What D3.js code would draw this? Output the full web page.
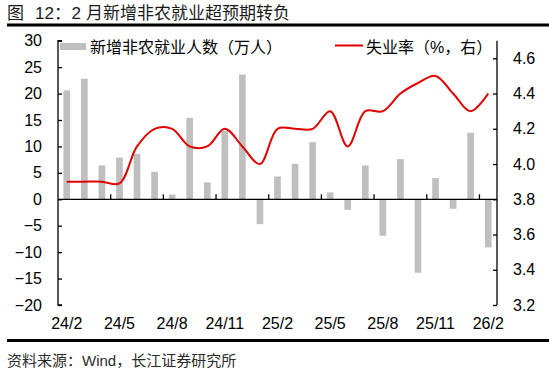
<!DOCTYPE html>
<html>
<head>
<meta charset="utf-8">
<script src="https://cdn.jsdelivr.net/npm/d3@7"></script>
<style>
  body { margin: 0; background: #fff; }
  svg { display: block; font-family: "Liberation Sans", Arial, "Noto Sans CJK SC", sans-serif; }
</style>
</head>
<body>
<svg id="chart"></svg>
<script>
// data
var months = ["24/2","24/3","24/4","24/5","24/6","24/7","24/8","24/9","24/10","24/11","24/12",
              "25/1","25/2","25/3","25/4","25/5","25/6","25/7","25/8","25/9","25/10","25/11","25/12",
              "26/1","26/2"]
var payrolls = [20.6, 22.8, 6.4, 7.9, 8.6, 5.2, 0.9, 15.4, 3.2, 12.9, 23.6,
                -4.7, 4.3, 6.7, 10.8, 1.3, -2.0, 6.4, -6.9, 7.6, -13.9, 4.0, -1.8,
                12.6, -9.1]
var unemployment = [3.9, 3.9, 3.9, 3.89, 4.1, 4.2, 4.2, 4.1, 4.1, 4.2, 4.1,
                    4.0, 4.2, 4.2, 4.2, 4.3, 4.1, 4.3, 4.3, 4.4, 4.46, 4.5, 4.4,
                    4.3, 4.4]
var leftTicks = [-20, -15, -10, -5, 0, 5, 10, 15, 20, 25, 30]
var rightTicks = [3.2, 3.4, 3.6, 3.8, 4.0, 4.2, 4.4, 4.6]
var labelMonths = ["24/2","24/5","24/8","24/11","25/2","25/5","25/8","25/11","26/2"]

var titleParts = ["图", "12：", "2", "月新增非农就业超预期转负"]
var sourceText = "资料来源：Wind，长江证券研究所"
var barLegend = "新增非农就业人数（万人）"
var lineLegend = "失业率（%，右）"

//dimensions
var width = 549, height = 372
var margin = {top: 40.7, right: 52, bottom: 67, left: 58}

var svg = d3.select("#chart")
            .attr("width", width)
            .attr("height", height)

//scales
var x = d3.scaleBand()
          .domain(months)
          .range([margin.left, width - margin.right])
          .paddingInner(0.62)
          .paddingOuter(0.31)
var xStep = (width - margin.left - margin.right) / months.length
var xCenter = d => margin.left + xStep * (months.indexOf(d) + 0.5)

var yLeft = d3.scaleLinear()
              .domain([-20, 30])
              .range([height - margin.bottom, margin.top])
var yRight = d3.scaleLinear()
               .domain([3.2, 4.7])
               .range([height - margin.bottom, margin.top])

//title and rules
var titlePos = [7, 35, 71.5, 86]
var title = svg.append("text")
               .attr("y", 18.5)
               .attr("font-size", 17)
               .attr("fill", "#1a1a1a")
title.selectAll("tspan")
     .data(titleParts)
     .enter()
     .append("tspan")
     .attr("x", (d, i) => titlePos[i])
     .text(d => d)

svg.append("line")
   .attr("x1", 7).attr("x2", width)
   .attr("y1", 25).attr("y2", 25)
   .attr("stroke", "#000").attr("stroke-width", 3)

svg.append("line")
   .attr("x1", 7).attr("x2", width)
   .attr("y1", 340.5).attr("y2", 340.5)
   .attr("stroke", "#000").attr("stroke-width", 3)

svg.append("text")
   .attr("x", 7)
   .attr("y", 366)
   .attr("font-size", 15)
   .attr("fill", "#2b2b2b")
   .text(sourceText)

//bars
svg.append("g")
   .selectAll("rect")
   .data(payrolls)
   .enter()
   .append("rect")
   .attr("x", (d, i) => xCenter(months[i]) - x.bandwidth() / 2)
   .attr("width", x.bandwidth())
   .attr("y", d => yLeft(Math.max(0, d)))
   .attr("height", d => Math.abs(yLeft(d) - yLeft(0)))
   .attr("fill", "#bfbfbf")

//x axis along zero
var xAxis = svg.append("g")
xAxis.append("line")
     .attr("x1", margin.left).attr("x2", width - margin.right)
     .attr("y1", yLeft(0)).attr("y2", yLeft(0))
     .attr("stroke", "#000").attr("stroke-width", 1.3)
xAxis.selectAll(".xtick")
     .data(d3.range(3, months.length, 3))
     .enter()
     .append("line")
     .attr("x1", d => margin.left + xStep * d)
     .attr("x2", d => margin.left + xStep * d)
     .attr("y1", yLeft(0)).attr("y2", yLeft(0) - 5)
     .attr("stroke", "#000").attr("stroke-width", 1.3)
xAxis.selectAll(".xlabel")
     .data(labelMonths)
     .enter()
     .append("text")
     .attr("x", d => xCenter(d))
     .attr("y", 329)
     .attr("text-anchor", "middle")
     .attr("font-size", 16)
     .attr("fill", "#000")
     .text(d => d)

//left axis
var leftAxis = svg.append("g")
                  .attr("transform", `translate(${margin.left},0)`)
                  .call(d3.axisRight(yLeft).tickValues(leftTicks).tickSize(4).tickFormat(d3.format("d")))
leftAxis.select(".domain").attr("d", `M4,${yLeft(30)}H0V${yLeft(-20)}H4`).attr("stroke-width", 1.3)
leftAxis.selectAll(".tick line").attr("stroke-width", 1.3)
leftAxis.selectAll(".tick text")
        .attr("x", -16)
        .attr("text-anchor", "end")
        .attr("font-size", 16)
        .attr("font-family", null)
        .attr("fill", "#000")

//right axis
var rightAxis = svg.append("g")
                   .attr("transform", `translate(${width - margin.right},0)`)
                   .call(d3.axisLeft(yRight).tickValues(rightTicks).tickSize(4).tickFormat(d3.format(".1f")))
rightAxis.select(".domain").attr("d", `M0,${yRight(4.7)}V${yRight(3.2)}`).attr("stroke-width", 1.3)
rightAxis.selectAll(".tick line").attr("stroke-width", 1.3)
rightAxis.selectAll(".tick text")
         .attr("x", 16)
         .attr("text-anchor", "start")
         .attr("font-size", 16)
         .attr("font-family", null)
         .attr("fill", "#000")

//unemployment line
var line = d3.line()
             .x((d, i) => xCenter(months[i]))
             .y(d => yRight(d))
             .curve(d3.curveCatmullRom.alpha(0.5))
svg.append("path")
   .datum(unemployment)
   .attr("d", line)
   .attr("fill", "none")
   .attr("stroke", "#e00000")
   .attr("stroke-width", 2)

//legend
svg.append("rect")
   .attr("x", 60).attr("y", 43)
   .attr("width", 26).attr("height", 7)
   .attr("fill", "#bfbfbf")
svg.append("text")
   .attr("x", 90).attr("y", 53)
   .attr("font-size", 16)
   .attr("fill", "#000")
   .text(barLegend)
svg.append("line")
   .attr("x1", 335).attr("x2", 363)
   .attr("y1", 45.5).attr("y2", 45.5)
   .attr("stroke", "#e00000").attr("stroke-width", 2)
svg.append("text")
   .attr("x", 366).attr("y", 53)
   .attr("font-size", 16)
   .attr("fill", "#000")
   .text(lineLegend)
</script>
</body>
</html>
